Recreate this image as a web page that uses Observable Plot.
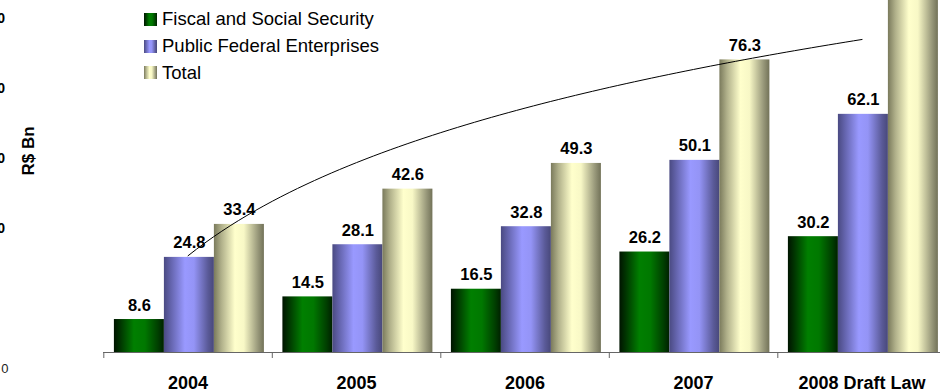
<!DOCTYPE html>
<html>
<head>
<meta charset="utf-8">
<script src="https://cdn.jsdelivr.net/npm/d3@7"></script>
<script src="https://cdn.jsdelivr.net/npm/@observablehq/plot@0.6"></script>
<style>
  html, body { margin: 0; padding: 0; background: #fff; }
  #wrap { position: relative; width: 940px; height: 392px; overflow: hidden; font-family: "Liberation Sans", Arial, sans-serif; }
  #legend { position: absolute; left: 144px; top: 6px; font-size: 18.5px; color: #000; }
  .row { display: flex; align-items: center; height: 26.7px; }
  .sw { width: 13px; height: 13px; margin-right: 5px; }
</style>
</head>
<body>
<div id="wrap"></div>
<script>
// ---- data ----
const years = ["2004", "2005", "2006", "2007", "2008 Draft Law"];
const seriesNames = ["Fiscal and Social Security", "Public Federal Enterprises", "Total"];
const fiscal = [8.6, 14.5, 16.5, 26.2, 30.2];
const enterprises = [24.8, 28.1, 32.8, 50.1, 62.1];
const total = [33.4, 42.6, 49.3, 76.3, 92.3];
const yAxisTitle = "R$ Bn";
const ghostTickLabels = ["100", "80", "60", "40"];   // cut-off left axis labels
const ghostTickValues = [100, 80, 60, 40];
const ghostZeroLabel = "0";

// ---- styling ----
const gradIds = ["gFiscal", "gPFE", "gTotal"];
const gradStops = [
  [[0, "#001400"], [0.12, "#003300"], [0.4, "#007f00"], [0.62, "#007800"], [0.88, "#003f00"], [1, "#002000"]],
  [[0, "#4a4a82"], [0.15, "#6666b0"], [0.42, "#9999ff"], [0.6, "#9494f6"], [0.88, "#5a5a98"], [1, "#48487a"]],
  [[0, "#7a7a5c"], [0.15, "#b0b08a"], [0.42, "#ffffcc"], [0.6, "#f8f8c6"], [0.88, "#98987a"], [1, "#727258"]]
];

const bars = [];
years.forEach((yr, i) => {
  [fiscal, enterprises, total].forEach((arr, s) => {
    bars.push({year: yr, i, s, value: arr[i]});
  });
});

// layout in category units (one category = 1)
const padL = 10.6 / 168.5, barW = 50 / 168.5;

// logarithmic trendline of the Total series (as in the spreadsheet)
const tIdx = total.map((_, k) => k + 1);
const lx = tIdx.map(Math.log);
const mx = d3.mean(lx), my = d3.mean(total);
const b = d3.sum(lx, (v, k) => (v - mx) * (total[k] - my)) / d3.sum(lx, v => (v - mx) ** 2);
const a = my - b * mx;
const trend = d3.range(1, 5.0001, 0.05).map(t => ({x: t - 0.5, y: a + b * Math.log(t)}));

// ghost axis (cut-off original axis: 0 at 18 units below baseline of bars)
const pxPerUnit = 383.5 / 100;
const ghostToY = v => (v * 3.5 - 18 + 2) / pxPerUnit;

function defs() {
  const ns = "http://www.w3.org/2000/svg";
  const d = document.createElementNS(ns, "defs");
  gradIds.forEach((id, k) => {
    const g = document.createElementNS(ns, "linearGradient");
    g.setAttribute("id", id);
    g.setAttribute("x1", "0"); g.setAttribute("x2", "1");
    g.setAttribute("y1", "0"); g.setAttribute("y2", "0");
    gradStops[k].forEach(([o, c]) => {
      const st = document.createElementNS(ns, "stop");
      st.setAttribute("offset", o);
      st.setAttribute("stop-color", c);
      g.appendChild(st);
    });
    d.appendChild(g);
  });
  return d;
}

const chart = Plot.plot({
  width: 940,
  height: 392,
  marginLeft: 103,
  marginRight: 0,
  marginTop: 0,
  marginBottom: 40,
  style: {fontFamily: "'Liberation Sans', Arial, sans-serif", background: "transparent", overflow: "visible"},
  x: {type: "linear", domain: [0, 5], range: [103.3, 945.8], axis: null},
  y: {type: "linear", domain: [0, 100], range: [352, 352 - 383.5], axis: null},
  marks: [
    defs,
    Plot.rect(bars, {
      x1: d => d.i + padL + d.s * barW,
      x2: d => d.i + padL + (d.s + 1) * barW,
      y1: 0,
      y2: d => d.value,
      fill: d => `url(#${gradIds[d.s]})`
    }),
    Plot.text(bars, {
      x: d => d.i + padL + (d.s + 0.5) * barW,
      y: d => d.value,
      text: d => d.value.toFixed(1),
      lineAnchor: "bottom",
      dy: -9,
      fontSize: 16.5,
      fontWeight: "bold",
      fill: "#000"
    }),
    Plot.line(trend, {x: "x", y: "y", stroke: "#000", strokeWidth: 1}),
    Plot.ruleY([0], {stroke: "#666", strokeWidth: 1}),
    Plot.axisX({ticks: d3.range(0, years.length), tickFormat: () => "", tickSize: 6, stroke: "#666", label: null}),
    Plot.text(years, {
      x: (d, i) => i + 0.5,
      y: 0,
      dy: 30.5,
      fontSize: 18,
      fontWeight: "bold",
      fill: "#000"
    }),
    Plot.text([yAxisTitle], {
      frameAnchor: "left",
      dx: -75,
      dy: -1,
      rotate: -90,
      fontSize: 17,
      fontWeight: "bold",
      fill: "#000"
    }),
    Plot.text(ghostTickLabels, {
      frameAnchor: "left",
      y: (d, i) => ghostToY(ghostTickValues[i]),
      dx: -98.5,
      textAnchor: "end",
      fontSize: 14,
      fontWeight: "bold",
      fill: "#000"
    }),
    Plot.text([ghostZeroLabel], {
      frameAnchor: "left",
      y: ghostToY(0),
      dx: -95,
      textAnchor: "end",
      fontSize: 13,
      fill: "#222"
    })
  ]
});

const wrap = document.getElementById("wrap");
wrap.appendChild(chart);

// legend
const legend = document.createElement("div");
legend.id = "legend";
seriesNames.forEach((name, k) => {
  const row = document.createElement("div");
  row.className = "row";
  const sw = document.createElement("div");
  sw.className = "sw";
  sw.style.background = "linear-gradient(to right, " + gradStops[k].map(([o, c]) => `${c} ${o * 100}%`).join(", ") + ")";
  const lab = document.createElement("span");
  lab.textContent = name;
  row.appendChild(sw);
  row.appendChild(lab);
  legend.appendChild(row);
});
wrap.appendChild(legend);
</script>
</body>
</html>
